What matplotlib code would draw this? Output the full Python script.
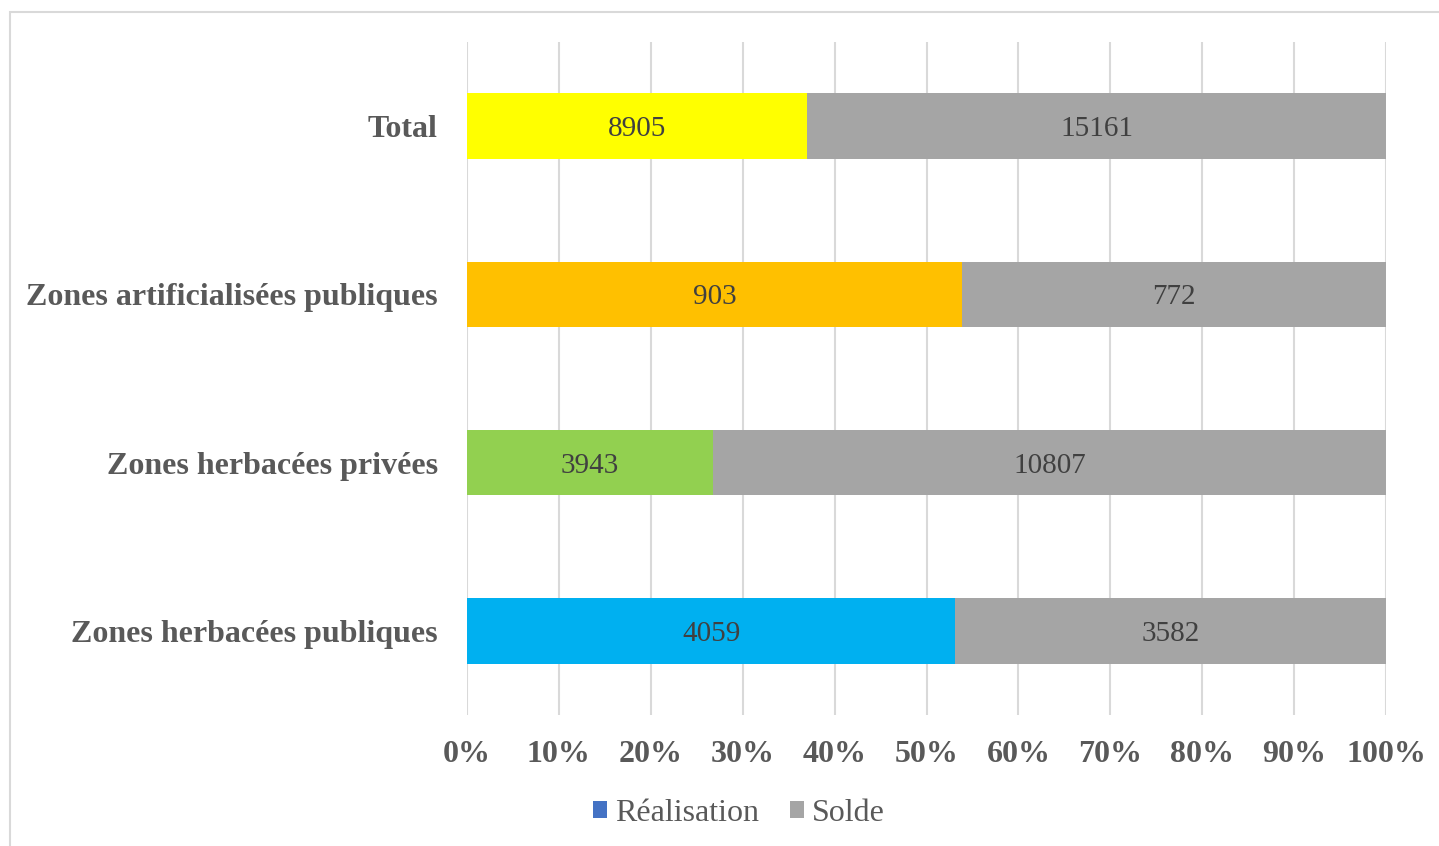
import matplotlib
matplotlib.use("Agg")
import matplotlib.pyplot as plt
from matplotlib.patches import Rectangle, Patch
import numpy as np

categories = ["Zones herbacées publiques", "Zones herbacées privées",
              "Zones artificialisées publiques", "Total"]
realisation = [4059, 3943, 903, 8905]
solde = [3582, 10807, 772, 15161]
real_colors = ["#00B0F0", "#92D050", "#FFC000", "#FFFF00"]
solde_color = "#A5A5A5"
legend_labels = ["Réalisation", "Solde"]
legend_colors = ["#4472C4", "#A5A5A5"]
xticks = np.arange(0, 1.01, 0.1)
xtick_labels = [f"{int(round(t*100))}%" for t in xticks]

plt.rcParams['font.family'] = ['Liberation Serif', 'DejaVu Serif']

fig = plt.figure(figsize=(14.39, 8.46), dpi=100)
fig.patches.append(Rectangle((10/1439, -0.01), 1.0, 1 - 12/846 + 0.01,
                             transform=fig.transFigure, fill=False,
                             edgecolor="#D9D9D9", linewidth=1.5))

ax = fig.add_axes([467/1439, 1 - 715/846, (1386-467)/1439, (715-42)/846])

real = np.array(realisation, dtype=float)
sol = np.array(solde, dtype=float)
tot = real + sol
rp = real / tot
sp = sol / tot
y = np.arange(len(categories))
h = 0.39

ax.barh(y, rp, height=h, color=real_colors, zorder=3)
ax.barh(y, sp, left=rp, height=h, color=solde_color, zorder=3)

for i in range(len(categories)):
    ax.text(rp[i]/2, y[i], str(realisation[i]), ha="center", va="center_baseline",
            fontsize=21, color="#404040", zorder=4)
    ax.text(rp[i] + sp[i]/2, y[i], str(solde[i]), ha="center", va="center_baseline",
            fontsize=21, color="#404040", zorder=4)

ax.set_xlim(0, 1)
ax.set_ylim(-0.5, 3.5)
ax.set_xticks(xticks)
ax.set_xticklabels(xtick_labels, fontsize=23, fontweight="bold", color="#595959")
ax.set_yticks(y)
ax.set_yticklabels(categories, fontsize=23, fontweight="bold", color="#595959")
ax.tick_params(axis="x", length=0, pad=18)
ax.tick_params(axis="y", length=0, pad=21)
for lbl in ax.get_yticklabels():
    lbl.set_va("center_baseline")
ax.grid(axis="x", color="#D9D9D9", linewidth=1.5, zorder=0)
for s in ax.spines.values():
    s.set_visible(False)

handles = [Patch(facecolor=c, edgecolor="none") for c in legend_colors]
fig.legend(handles, legend_labels, loc="center", bbox_to_anchor=(739/1439, 1 - 813/846),
           ncol=2, frameon=False, fontsize=23, labelcolor="#595959",
           handlelength=0.45, handleheight=0.45, handletextpad=0.25, columnspacing=0.95)

fig.savefig("out.png", dpi=100)
